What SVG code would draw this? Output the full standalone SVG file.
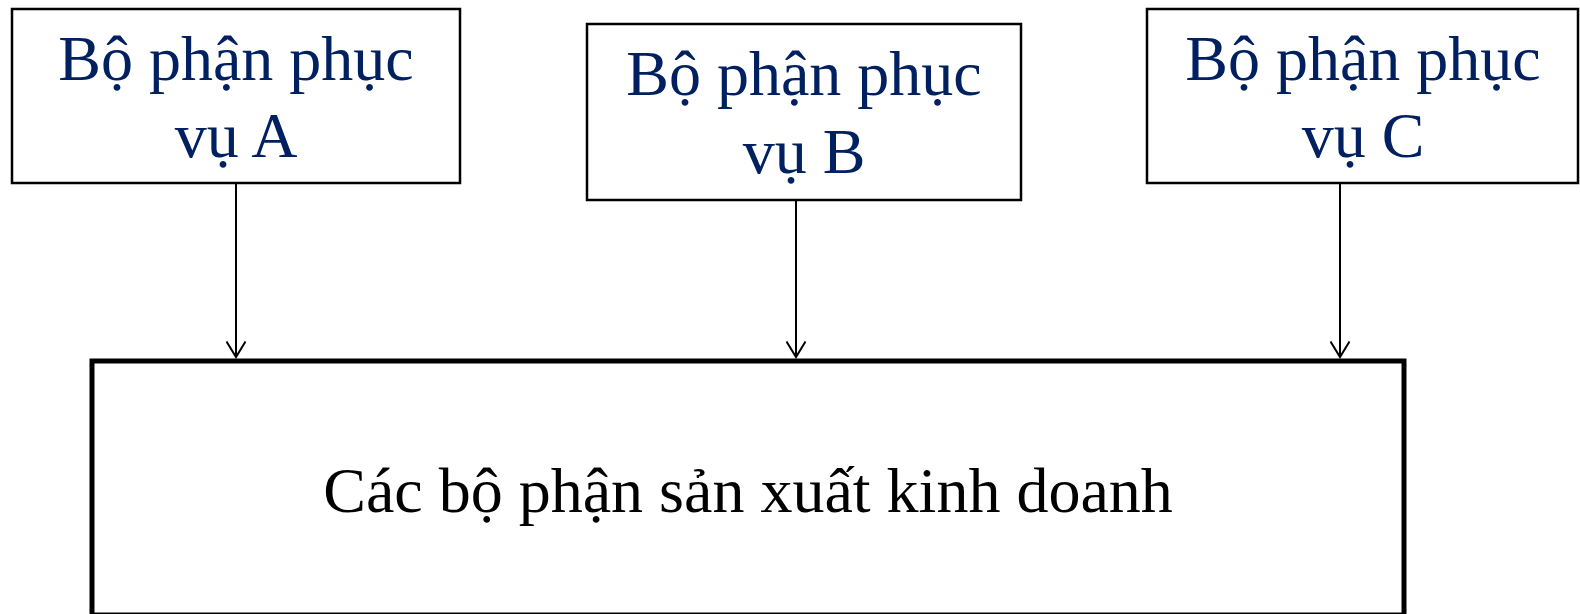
<svg xmlns="http://www.w3.org/2000/svg" width="1580" height="614" viewBox="0 0 1580 614">
<style>
.box{fill:#fff;stroke:#000;stroke-width:2.5}
.big{fill:#fff;stroke:#000;stroke-width:5}
.t{font-family:"Liberation Serif","Times New Roman",serif;font-size:64px;text-anchor:middle}
.navy{fill:#002060}
.blk{fill:#000}
.conn line{stroke:#000;stroke-width:2;fill:none}
.conn path{stroke:#000;stroke-width:2;fill:none}
</style>
<rect width="1580" height="614" fill="#fff"/>
<g id="nodeA">
<rect class="box" x="12" y="9" width="448" height="174"/>
<text class="t navy" x="236" y="80">Bộ phận phục</text>
<text class="t navy" x="236" y="157">vụ A</text>
</g>
<g id="nodeB">
<rect class="box" x="587" y="24" width="434" height="176"/>
<text class="t navy" x="804" y="95">Bộ phận phục</text>
<text class="t navy" x="804" y="173">vụ B</text>
</g>
<g id="nodeC">
<rect class="box" x="1147" y="9" width="431" height="174"/>
<text class="t navy" x="1363" y="80">Bộ phận phục</text>
<text class="t navy" x="1363" y="157">vụ C</text>
</g>
<g id="nodeMain">
<rect class="big" x="92" y="361" width="1312" height="254"/>
<text class="t blk" x="748" y="512">Các bộ phận sản xuất kinh doanh</text>
</g>
<g id="connectors" class="conn">
<line x1="236" y1="184" x2="236" y2="357"/>
<path d="M226.5,341.5 L236,357 L245.5,341.5"/>
<line x1="796" y1="201" x2="796" y2="357"/>
<path d="M786.5,341.5 L796,357 L805.5,341.5"/>
<line x1="1340" y1="184" x2="1340" y2="357"/>
<path d="M1330.5,341.5 L1340,357 L1349.5,341.5"/>
</g>
</svg>
